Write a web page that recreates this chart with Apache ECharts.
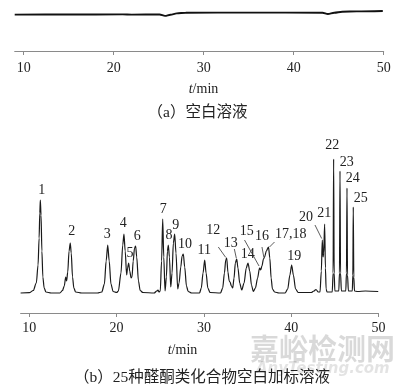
<!DOCTYPE html>
<html><head><meta charset="utf-8">
<script src="https://cdn.jsdelivr.net/npm/echarts@6/dist/echarts.min.js"></script>
<style>html,body{margin:0;padding:0;background:#fff}#c{width:400px;height:390px}</style>
</head><body><div id="c"></div><script>
// ---- data ----
const xTicks = [10, 20, 30, 40, 50];
// (a) blank solution: [t/min, signal]
const blankTrace = [[9,36.4],[15,36.5],[21,36.6],[22,36.4],[25.1,36.5],[25.7,35.1],[26.3,36.3],[27.0,37.6],[28,38.3],[35,38.4],[43.2,38.3],[43.8,37.0],[44.5,38.3],[45.4,39.3],[47,39.6],[49.9,40.0]];
// (b) spiked blank: [t/min, signal]
const spikedTrace = [
 [9.0,20],[10.0,20.3],[10.45,22.5],[10.8,30],[11.0,48],[11.12,75],[11.2,100],[11.26,113],[11.34,98],[11.44,62],[11.55,36],[11.7,25],[11.9,21],[12.5,20],
 [13.5,20],[13.8,22.5],[14.0,27],[14.17,36],[14.27,32],[14.4,41],[14.55,62],[14.69,70],[14.8,60],[14.95,36],[15.1,25],[15.3,21],[16,20],
 [17.8,20],[18.3,21],[18.6,29],[18.8,52],[18.98,68],[19.15,52],[19.35,29],[19.6,21.5],[20.0,20.5],
 [20.2,22],[20.5,40],[20.7,68],[20.84,79],[20.98,62],[21.15,38],[21.25,45],[21.38,50],[21.5,42],[21.66,35],[21.76,36],[21.9,52],[22.05,65],[22.18,67],[22.3,56],[22.5,32],[22.7,22.5],[23.0,20.5],
 [24.3,20],[24.6,22],[24.74,23],[24.85,21],
 [25.0,22],[25.15,52],[25.28,94],[25.4,56],[25.55,22],[25.7,36],[25.82,62],[25.92,68],[26.05,56],[26.2,26],[26.35,40],[26.5,70],[26.65,79],[26.8,60],[27.0,24],[27.15,30],[27.35,46],[27.5,57],[27.64,59],[27.8,46],[28.0,27],[28.2,21.5],[28.6,20],
 [29.5,20],[29.7,25],[29.9,40],[30.09,53],[30.25,40],[30.45,25],[30.7,20.5],
 [31.9,20],[32.15,25],[32.35,40],[32.5,53],[32.61,55],[32.75,41],[32.9,32],[32.99,31],[33.15,27],[33.3,25],
 [33.45,35],[33.6,50],[33.76,54],[33.9,45],[34.1,30],[34.33,23],
 [34.6,30],[34.85,45],[35.05,50],[35.25,42],[35.45,28],[35.66,21.5],
 [35.9,25],[36.15,35],[36.37,45],[36.5,43],[36.65,47],[36.82,54],[36.95,56],[37.15,62],[37.4,66],[37.55,55],[37.7,35],[37.85,24],[38.1,21],[38.6,20],
 [39.3,20],[39.6,24],[39.85,38],[40.05,48],[40.25,38],[40.5,24],[40.8,20.5],
 [42.3,20.5],[42.6,22],[42.84,23.5],[43.1,21],
 [43.3,21],[43.45,42],[43.56,73],[43.65,56],[43.72,60],[43.83,89],[43.92,45],[44.0,24],[44.1,21],
 [44.7,21],[44.8,40],[44.86,154],[44.92,40],[45.0,22],
 [45.45,22],[45.53,40],[45.59,142],[45.65,40],[45.75,22],
 [46.25,22],[46.33,40],[46.39,125],[46.45,38],[46.55,22],
 [47.0,22],[47.06,38],[47.11,106],[47.17,36],[47.25,22],
 [47.6,21.5],[48.5,22],[49.97,21.5]
];
// peak identification
const peakNames  = ['1','2','3','4','5','6','7','8','9','10','11','12','13','14','15','16','17,18','19','20','21','22','23','24','25'];
const peakTimes  = [11.26,14.69,18.98,20.84,21.38,22.18,25.28,25.92,26.65,27.64,30.09,32.61,33.76,35.05,36.37,36.95,37.4,40.05,43.56,43.83,44.86,45.59,46.39,47.11];
const peakHeights= [113,70,68,79,50,67,94,68,79,59,53,55,54,50,45,56,66,48,73,89,154,142,125,106];

// ---- layout/style (pixels) ----
const labelOffsets = {
 '1':[1.4,-9.5],'2':[1.4,-12],'3':[-0.4,-10.3],'4':[-0.7,-10.3],'5':[1.3,-9.3],'6':[1.6,-9.7],'7':[0.6,-9.7],'8':[0.7,-9.5],
 '9':[1,-9],'10':[1.7,-10],'11':[-0.4,-10],'12':[-13.4,-27.3],'13':[-6,-16],'14':[-0.3,-8.3],'15':[-12.7,-36.3],'16':[-2.6,-21],
 '17,18':[22.2,-12.4],'19':[2.5,-8.5],'20':[-16.3,-22.7],'21':[-0.4,-10.7],'22':[-1.4,-13.3],'23':[6.7,-8.7],'24':[5.7,-9.6],'25':[7.4,-9]
};
const leaderLines = {
 '12':[-8.4,-11,-1,-0.6],'13':[-2.4,-10,-0.4,-0.8],'15':[-15,-28,-0.5,-2],'16':[-2.6,-10,-0.8,0],'17,18':[6,-5,1,0],'20':[-7.3,-15,-0.6,-1.5]
};
const SERIF = '"Liberation Serif","Times New Roman",serif';
const CJK = '"Liberation Serif","Noto Sans CJK SC",serif';
const axisCommon = {
  type:'value', min:9, max:50,
  axisLine:{show:true, lineStyle:{color:'#8a8a8a', width:1}},
  axisTick:{show:true, length:4, inside:false, customValues:xTicks, lineStyle:{color:'#8a8a8a'}},
  axisLabel:{customValues:xTicks, color:'#222', fontFamily:SERIF, fontSize:14},
  splitLine:{show:false}
};

const chart = echarts.init(document.getElementById('c'), null, {renderer:'canvas'});
chart.setOption({
  animation:false,
  backgroundColor:'#fff',
  grid:[
    {left:14.7, top:0, width:369, height:51},
    {left:20.6, top:130, width:357.9, height:183}
  ],
  xAxis:[
    Object.assign({}, axisCommon, {gridIndex:0, axisLabel:Object.assign({}, axisCommon.axisLabel, {margin:10})}),
    Object.assign({}, axisCommon, {gridIndex:1, axisLabel:Object.assign({}, axisCommon.axisLabel, {margin:8})})
  ],
  yAxis:[
    {type:'value', gridIndex:0, min:0, max:51, show:false},
    {type:'value', gridIndex:1, min:0, max:183, show:false}
  ],
  series:[
    {type:'line', xAxisIndex:0, yAxisIndex:0, data:blankTrace, symbol:'none', smooth:0.3, smoothMonotone:'x',
     lineStyle:{color:'#111', width:1.9}},
    {type:'line', xAxisIndex:1, yAxisIndex:1, data:spikedTrace, symbol:'none', smooth:0.3, smoothMonotone:'x',
     lineStyle:{color:'#1a1a1a', width:1.2}},
    {type:'custom', xAxisIndex:1, yAxisIndex:1, clip:false,
     data: peakTimes.map((t,i)=>[t, peakHeights[i]]),
     renderItem:function(params, api){
       const i = params.dataIndex;
       const name = peakNames[i];
       const p = api.coord([api.value(0), api.value(1)]);
       const off = labelOffsets[name];
       const ch = [{type:'text', style:{text:name, x:p[0]+off[0], y:p[1]+off[1], align:'center', verticalAlign:'middle',
                   fontFamily:SERIF, fontSize:14, fill:'#222'}}];
       const ld = leaderLines[name];
       if (ld) ch.push({type:'line', shape:{x1:p[0]+ld[0], y1:p[1]+ld[1], x2:p[0]+ld[2], y2:p[1]+ld[3]}, style:{stroke:'#333', lineWidth:0.8}});
       return {type:'group', children:ch};
     }}
  ],
  graphic:[
    {type:'text', z:0, style:{text:'嘉峪检测网', x:250, y:334, fontSize:29, fontWeight:'bold', fontFamily:'"Noto Sans CJK SC"', fill:'rgba(0,0,0,0.15)'}},
    {type:'text', z:0, style:{text:'AnyTesting.com', x:256, y:362, fontSize:15, fontStyle:'italic', fontWeight:'bold', fontFamily:'"DejaVu Sans"', fill:'rgba(0,0,0,0.11)'}},
    {type:'text', z:10, style:{text:'{i|t}/min', x:203.5, y:89, align:'center', verticalAlign:'middle', fontFamily:SERIF, fontSize:14, fill:'#222',
      rich:{i:{fontStyle:'italic', fontFamily:SERIF, fontSize:14, fill:'#222'}}}},
    {type:'text', z:10, style:{text:'{i|t}/min', x:182.5, y:350, align:'center', verticalAlign:'middle', fontFamily:SERIF, fontSize:14, fill:'#222',
      rich:{i:{fontStyle:'italic', fontFamily:SERIF, fontSize:14, fill:'#222'}}}},
    {type:'text', z:10, style:{text:'（a）空白溶液', x:197.5, y:113, align:'center', verticalAlign:'middle', fontFamily:CJK, fontSize:15.5, fill:'#222'}},
    {type:'text', z:10, style:{text:'（b）25种醛酮类化合物空白加标溶液', x:202, y:378, align:'center', verticalAlign:'middle', fontFamily:CJK, fontSize:15.5, fill:'#222'}}
  ]
});
</script></body></html>
